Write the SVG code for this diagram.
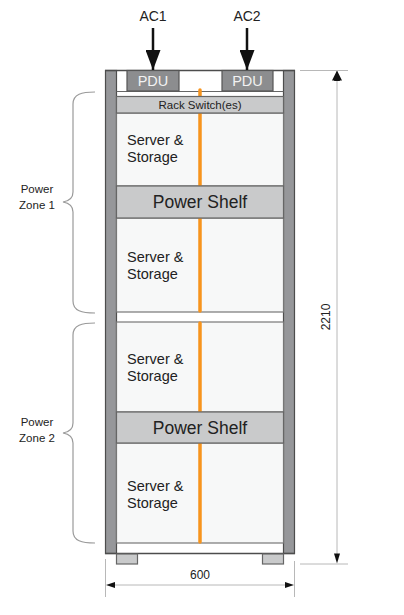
<svg xmlns="http://www.w3.org/2000/svg" width="404" height="615" viewBox="0 0 404 615">
<defs>
<style>
.t{font-family:"Liberation Sans",Arial,sans-serif;fill:#222}
.post{fill:#96979a;stroke:#4d4d4d;stroke-width:1.2}
.srv{fill:#f7f8f8;stroke:#777;stroke-width:1.2}
.shelf{fill:#c9cacb;stroke:#666;stroke-width:1.2}
.pdu{fill:#8c8d8f;stroke:#555;stroke-width:1.2}
.dim{stroke:#b8b8b8;stroke-width:1;fill:none}
.brace{stroke:#9a9a9a;stroke-width:1.2;fill:none}
.feed{stroke:#f7941d;stroke-width:3.5;stroke-linecap:round}
</style>
<marker id="ah" viewBox="0 0 10 10" refX="10" refY="5" markerWidth="10" markerHeight="10" markerUnits="userSpaceOnUse" orient="auto">
<path d="M0,0 L10,5 L0,10 Z" fill="#111"/>
</marker>
<marker id="acHead" viewBox="0 0 20 20" refX="20" refY="10" markerWidth="20" markerHeight="15" markerUnits="userSpaceOnUse" orient="auto" preserveAspectRatio="none">
<path d="M0,0 L20,10 L0,20 Z" fill="#111"/>
</marker>
</defs>
<rect width="404" height="615" fill="#fff"/>

<g id="rack">
<rect class="post" x="105.5" y="70.5" width="11" height="483"/>
<rect class="post" x="283.5" y="70.5" width="11" height="483"/>
<line x1="105" y1="70.5" x2="295" y2="70.5" stroke="#4d4d4d" stroke-width="1.5"/>
<line x1="105" y1="553.5" x2="295" y2="553.5" stroke="#4d4d4d" stroke-width="1.5"/>
<line x1="116.5" y1="91.5" x2="283.5" y2="91.5" stroke="#666" stroke-width="1.2"/>
<rect class="shelf" x="116.5" y="554" width="21" height="10"/>
<rect class="shelf" x="262.5" y="554" width="21" height="10"/>
</g>

<g id="pdu1">
<rect class="pdu" x="127" y="70.5" width="52" height="20.5"/>
<text class="t" x="153" y="86" font-size="14.5" text-anchor="middle" style="fill:#f2f2f2">PDU</text>
</g>
<g id="pdu2">
<rect class="pdu" x="222" y="70.5" width="51" height="20.5"/>
<text class="t" x="247.5" y="86" font-size="14.5" text-anchor="middle" style="fill:#f2f2f2">PDU</text>
</g>

<g id="server1">
<rect class="srv" x="116.5" y="113" width="167" height="73"/>
<text class="t" x="127" y="145" font-size="14.5">Server &amp;</text>
<text class="t" x="127" y="161.5" font-size="14.5">Storage</text>
</g>
<g id="server2">
<rect class="srv" x="116.5" y="218" width="167" height="94"/>
<text class="t" x="127" y="262" font-size="14.5">Server &amp;</text>
<text class="t" x="127" y="279" font-size="14.5">Storage</text>
</g>
<g id="server3">
<rect class="srv" x="116.5" y="322" width="167" height="90"/>
<text class="t" x="127" y="363.5" font-size="14.5">Server &amp;</text>
<text class="t" x="127" y="380.5" font-size="14.5">Storage</text>
</g>
<g id="server4">
<rect class="srv" x="116.5" y="443" width="167" height="100"/>
<text class="t" x="127" y="490.5" font-size="14.5">Server &amp;</text>
<text class="t" x="127" y="507.5" font-size="14.5">Storage</text>
</g>

<g id="connectors">
<line class="feed" x1="200" y1="90" x2="200" y2="311"/>
<line class="feed" x1="200" y1="323" x2="200" y2="542"/>
<line x1="153" y1="28" x2="153" y2="70" stroke="#111" stroke-width="2.5" marker-end="url(#acHead)"/>
<line x1="247" y1="28" x2="247" y2="70" stroke="#111" stroke-width="2.5" marker-end="url(#acHead)"/>
</g>

<g id="switch">
<rect class="shelf" x="116.5" y="96.5" width="167" height="16.5"/>
<text class="t" x="200" y="109" font-size="11.5" text-anchor="middle">Rack Switch(es)</text>
</g>
<g id="shelf1">
<rect class="shelf" x="116.5" y="186" width="167" height="32"/>
<text class="t" x="200" y="207.5" font-size="17.5" text-anchor="middle">Power Shelf</text>
</g>
<g id="shelf2">
<rect class="shelf" x="116.5" y="412" width="167" height="31"/>
<text class="t" x="200" y="433.5" font-size="17.5" text-anchor="middle">Power Shelf</text>
</g>

<g id="ac1"><text class="t" x="153" y="21" font-size="14" text-anchor="middle">AC1</text></g>
<g id="ac2"><text class="t" x="247" y="21" font-size="14" text-anchor="middle">AC2</text></g>

<g id="zone1">
<path class="brace" d="M95,92 C82,92 73,94 73,104 L73,192 C73,198 69,201 63,202 C69,203 73,206 73,212 L73,301 C73,311 82,313 95,313"/>
<text class="t" x="37" y="193" font-size="11.5" text-anchor="middle">Power</text>
<text class="t" x="37" y="208.5" font-size="11.5" text-anchor="middle">Zone 1</text>
</g>
<g id="zone2">
<path class="brace" d="M95,323 C82,323 73,325 73,335 L73,423 C73,429 69,432 63,433 C69,434 73,437 73,443 L73,531 C73,541 82,543 95,543"/>
<text class="t" x="37" y="426" font-size="11.5" text-anchor="middle">Power</text>
<text class="t" x="37" y="441.5" font-size="11.5" text-anchor="middle">Zone 2</text>
</g>

<g id="dim-height">
<line class="dim" x1="300" y1="70.5" x2="348" y2="70.5"/>
<line class="dim" x1="300" y1="564" x2="348" y2="564"/>
<line class="dim" x1="337" y1="80" x2="337" y2="555"/>
<line x1="337" y1="82" x2="337" y2="70.5" stroke="none" marker-end="url(#ah)"/>
<path d="M337,71 L340,81 L334,81 Z" fill="#111"/>
<path d="M337,563.5 L340,553.5 L334,553.5 Z" fill="#111"/>
<text class="t" x="0" y="0" font-size="12" text-anchor="middle" transform="translate(330,317) rotate(-90)">2210</text>
</g>

<g id="dim-width">
<line class="dim" x1="105.5" y1="559" x2="105.5" y2="597"/>
<line class="dim" x1="294.5" y1="561" x2="294.5" y2="597"/>
<line class="dim" x1="114" y1="585" x2="286" y2="585"/>
<path d="M106,585 L115,582 L115,588 Z" fill="#111"/>
<path d="M294,585 L285,582 L285,588 Z" fill="#111"/>
<text class="t" x="200" y="579" font-size="12" text-anchor="middle">600</text>
</g>
</svg>
